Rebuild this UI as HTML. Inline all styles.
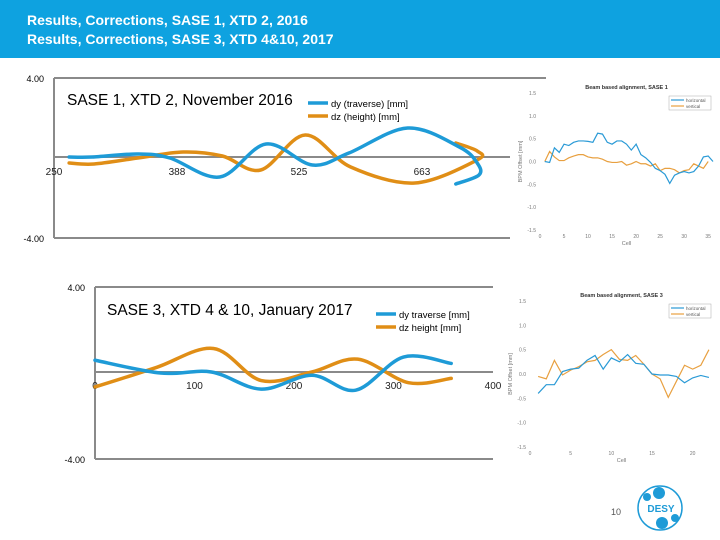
<!DOCTYPE html>
<html><head><meta charset="utf-8">
<style>
body{margin:0;width:720px;height:540px;overflow:hidden;background:#fff;font-family:"Liberation Sans",sans-serif;}
#hdr{position:absolute;left:0;top:0;width:720px;height:58px;background:#0ea2e0;}
#hdr div{position:absolute;left:27px;color:#fff;font-weight:bold;font-size:14px;}
svg{position:absolute;left:0;top:0;}
</style></head><body>
<div id="hdr">
<div style="top:12px">Results, Corrections, SASE 1, XTD 2, 2016</div>
<div style="top:31px">Results, Corrections, SASE 3, XTD 4&amp;10, 2017</div>
</div>
<svg id="s" width="720" height="540"></svg>
<script>
// Chart 1 (SASE 1) data
const c1Ticks=[250,388,525,663];
const c1DyX=[267,293,344,380,436,488,540,581,647,705,725,727,701];
const c1DyY=[0,0,0.15,-0.05,-1.0,0.65,-0.4,0.2,1.45,0.5,-0.3,-0.9,-1.35];
const c1DzX=[267,295,344,395,439,482,532,583,655,725,725,701];
const c1DzY=[-0.3,-0.35,-0.05,0.25,0.05,-0.65,1.1,-0.5,-1.3,-0.15,0.3,0.7];
// Chart 2 (SASE 3) data
const c2Ticks=[0,100,200,300,400];
const c2DyX=[0,66,117,167,218,262,310,358];
const c2DyY=[0.55,-0.05,0,-0.8,-0.15,-0.85,0.7,0.4];
const c2DzX=[0,61,119,167,218,264,315,358];
const c2DzY=[-0.7,0.2,1.1,-0.4,0,0.6,-0.5,-0.3];
// Inset 1 (beam based alignment SASE 1)
const i1Hor=[0,-0.02,0.3,0.2,0.38,0.35,0.42,0.45,0.45,0.44,0.42,0.62,0.6,0.42,0.38,0.45,0.45,0.38,0.25,0.38,0.15,0.08,-0.02,-0.15,-0.2,-0.28,-0.48,-0.3,-0.25,-0.22,-0.25,-0.22,-0.1,0.1,0.12,0.0];
const i1Ver=[0,0.22,0.1,0.02,0.02,0.08,0.12,0.15,0.15,0.1,0.08,0.08,0.05,0.0,-0.02,-0.02,0.0,-0.08,-0.05,0.0,-0.05,-0.05,-0.1,-0.05,-0.2,-0.15,-0.15,-0.18,-0.25,-0.2,-0.18,-0.05,-0.1,-0.15,0.0];
const i1XTicks=[0,5,10,15,20,25,30,35];
// Inset 2 (SASE 3)
const i2Hor=[-0.4,-0.22,-0.22,0.05,0.1,0.12,0.28,0.38,0.1,0.33,0.25,0.4,0.22,0.2,0.0,-0.02,-0.02,-0.05,-0.18,-0.08,-0.03,-0.07];
const i2Ver=[-0.05,-0.1,0.28,-0.02,0.08,0.15,0.25,0.28,0.4,0.5,0.3,0.28,0.38,0.2,0.0,-0.1,-0.48,-0.15,0.18,0.1,0.18,0.5];
const i2XTicks=[0,5,10,15,20];
const insetYTicks=[1.5,1.0,0.5,0.0,-0.5,-1.0,-1.5];

const S=document.getElementById('s');const NS='http://www.w3.org/2000/svg';
function mk(t,a,txt){const e=document.createElementNS(NS,t);for(const k in a)e.setAttribute(k,a[k]);if(txt!=null)e.textContent=txt;S.appendChild(e);return e;}
function smooth(p){let d='M'+p[0][0]+','+p[0][1];for(let i=0;i<p.length-1;i++){const p0=p[i-1]||p[i],p1=p[i],p2=p[i+1],p3=p[i+2]||p2;
d+=' C'+(p1[0]+(p2[0]-p0[0])/6)+','+(p1[1]+(p2[1]-p0[1])/6)+' '+(p2[0]-(p3[0]-p1[0])/6)+','+(p2[1]-(p3[1]-p1[1])/6)+' '+p2[0]+','+p2[1];}return d;}

function bigChart(o){
 const sx=v=>o.x0+(v-o.t0)*o.pxu, sy=v=>o.zy-v*o.pyu;
 let e;
 e=mk('line',{x1:o.x0,y1:o.top,x2:o.right,y2:o.top,stroke:'#8a8a8a','stroke-width':2});
 e=mk('line',{x1:o.x0,y1:o.top,x2:o.x0,y2:o.bot,stroke:'#8a8a8a','stroke-width':2});
 e=mk('line',{x1:o.x0,y1:o.bot,x2:o.zr,y2:o.bot,stroke:'#8a8a8a','stroke-width':2});
 e=mk('line',{x1:o.x0,y1:o.zy,x2:o.zr,y2:o.zy,stroke:'#8a8a8a','stroke-width':2});
 e=mk('text',{x:o.x0-10,y:o.top+4,'font-size':9,'text-anchor':'end'},'4.00');
 e=mk('text',{x:o.x0-10,y:o.bot+4,'font-size':9,'text-anchor':'end'},'-4.00');
 o.ticks.forEach(t=>{e=mk('text',{x:sx(t),y:o.ly,'font-size':10,'text-anchor':'middle',fill:'#222'},String(t));});
 [[o.dzX,o.dzY,'#e08e16','dz'],[o.dyX,o.dyY,'#1e9bd7','dy']].forEach(s=>{
  const pts=s[0].map((x,i)=>[sx(x),sy(s[1][i])]);
  e=mk('path',{d:smooth(pts),fill:'none',stroke:s[2],'stroke-width':3.5,'stroke-linecap':'round'});
 });
 e=mk('text',{x:o.tx,y:o.ty,'font-size':15.5},o.title);
 [[o.l1,'#1e9bd7',0],[o.l2,'#e08e16',13]].forEach((l,i)=>{
  e=mk('line',{x1:o.lx,y1:o.ly0+l[2],x2:o.lx+20,y2:o.ly0+l[2],stroke:l[1],'stroke-width':3.5});
  e=mk('text',{x:o.lx+23,y:o.ly0+l[2]+4,'font-size':9.5},l[0]);
 });
}
bigChart({n:'chart1',x0:54,t0:250,pxu:122.5/137.5,zy:157,pyu:20,top:78,bot:238,right:546,zr:510,ly:175,ticks:c1Ticks,dyX:c1DyX,dyY:c1DyY,dzX:c1DzX,dzY:c1DzY,title:'SASE 1, XTD 2, November 2016',tx:67,ty:105,lx:308,ly0:103,l1:'dy (traverse) [mm]',l2:'dz (height) [mm]'});
bigChart({n:'chart2',x0:95,t0:0,pxu:0.995,zy:372,pyu:21.4,top:287,bot:459,right:493,zr:493,ly:389,ticks:c2Ticks,dyX:c2DyX,dyY:c2DyY,dzX:c2DzX,dzY:c2DzY,title:'SASE 3, XTD 4 & 10, January 2017',tx:107,ty:315,lx:376,ly0:314,l1:'dy traverse [mm]',l2:'dz height [mm]'});

function inset(o){
 let e=mk('rect',{x:o.bx,y:o.by,width:720-o.bx,height:o.bh,fill:'#fff'});
 const sx=c=>o.l+c*(o.r-o.l)/o.xmax, sy=v=>o.b-(v+1.5)*(o.b-o.t)/3;
 insetYTicks.forEach(v=>{e=mk('text',{x:o.l-4,y:sy(v)+2,'font-size':5,'text-anchor':'end',fill:'#777'},v.toFixed(1));});
 o.xt.forEach(c=>{e=mk('text',{x:sx(c),y:o.b+8,'font-size':5,'text-anchor':'middle',fill:'#777'},String(c));});
 e=mk('text',{x:(o.l+o.r)/2,y:o.t-4,'font-size':5.5,'font-weight':'bold','text-anchor':'middle',fill:'#333'},o.title);
 e=mk('text',{x:(o.l+o.r)/2,y:o.b+15,'font-size':5.5,'text-anchor':'middle',fill:'#777'},'Cell');
 e=mk('text',{x:0,y:0,'font-size':5.5,'text-anchor':'middle',fill:'#777',transform:'translate('+(o.l-18)+','+((o.t+o.b)/2)+') rotate(-90)'},'BPM Offset [mm]');
 [[o.ver,'#e8a040','vertical'],[o.hor,'#2a9ad6','horizontal']].forEach(s=>{
  e=mk('polyline',{points:s[0].map((v,i)=>sx(i+1)+','+sy(v)).join(' '),fill:'none',stroke:s[1],'stroke-width':1.2});
 });
 e=mk('rect',{x:o.r-44,y:o.t+3,width:42,height:14,fill:'#fff',stroke:'#aaa','stroke-width':0.5});
 [['horizontal','#2a9ad6',0],['vertical','#e8a040',6]].forEach(l=>{
  e=mk('line',{x1:o.r-42,y1:o.t+7+l[2],x2:o.r-29,y2:o.t+7+l[2],stroke:l[1],'stroke-width':1.2});
  e=mk('text',{x:o.r-27,y:o.t+9+l[2],'font-size':4.5,fill:'#555'},l[0]);
 });
}
inset({n:'inset1',bx:512,by:80,bh:170,l:540,r:713,t:93,b:230,xmax:36,xt:i1XTicks,hor:i1Hor,ver:i1Ver,title:'Beam based alignment, SASE 1'});
inset({n:'inset2',bx:505,by:285,bh:185,l:530,r:713,t:301,b:447,xmax:22.5,xt:i2XTicks,hor:i2Hor,ver:i2Ver,title:'Beam based alignment, SASE 3'});

let e=mk('text',{x:616,y:515,'font-size':9,'text-anchor':'middle',fill:'#555'},'10');
e=mk('circle',{cx:660,cy:508,r:22,fill:'none',stroke:'#1e9bd7','stroke-width':1.5});
[[647,497,4],[659,493,6],[662,523,6],[675,518,4]].forEach(c=>{e=mk('circle',{cx:c[0],cy:c[1],r:c[2],fill:'#1e9bd7'});});
e=mk('text',{x:661,y:512,'font-size':10,'font-weight':'bold','text-anchor':'middle',fill:'#1e9bd7'},'DESY');
</script>
</body></html>
